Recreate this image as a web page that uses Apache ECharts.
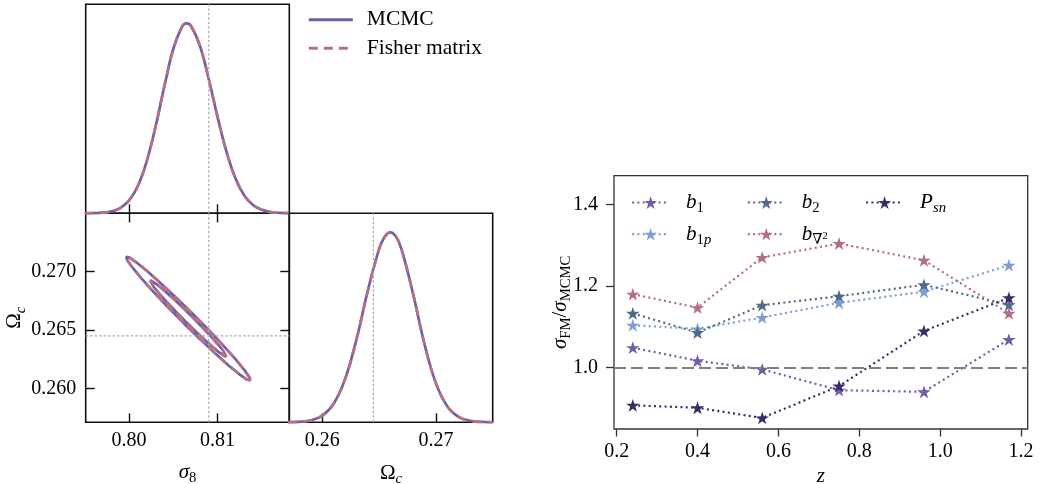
<!DOCTYPE html>
<html>
<head>
<meta charset="utf-8">
<script src="https://cdn.jsdelivr.net/npm/echarts@6/dist/echarts.min.js"></script>
<style>
  html, body { margin: 0; padding: 0; background: #fff; }
  #chart { width: 1040px; height: 484px; }
</style>
</head>
<body>
<div id="chart"></div>
<script>
// ---- tick positions ----
const sigma8Ticks = [0.80, 0.81];
const omegaCTicksLeft = [0.260, 0.265, 0.270];
const omegaCTicksBottom = [0.26, 0.27];
const zTicks = [0.2, 0.4, 0.6, 0.8, 1.0, 1.2];
const ratioTicks = [1.0, 1.2, 1.4];

// ---- fiducial cosmology ----
const sigma8Fiducial = 0.809;
const omegaCFiducial = 0.2645;

// ---- 1D marginal posteriors (peak-normalised) ----
const sigma8Grid = [0.795, 0.796, 0.797, 0.798, 0.799, 0.800, 0.801, 0.802, 0.803, 0.804, 0.805, 0.806, 0.8065,
  0.807, 0.808, 0.809, 0.810, 0.811, 0.812, 0.813, 0.814, 0.815, 0.816, 0.817, 0.818];
const sigma8Posterior = [0.0002, 0.0009, 0.0032, 0.0100, 0.0277, 0.0676, 0.145, 0.275, 0.458, 0.671, 0.866, 0.984, 1.000,
  0.986, 0.882, 0.707, 0.506, 0.325, 0.186, 0.0956, 0.0439, 0.0181, 0.0066, 0.0022, 0.0006];

const omegaCGrid = [0.257, 0.258, 0.259, 0.260, 0.261, 0.262, 0.263, 0.264, 0.265, 0.2655, 0.266, 0.2665,
  0.267, 0.268, 0.269, 0.270, 0.271, 0.272, 0.273, 0.274, 0.275];
const omegaCPosterior = [0.0005, 0.0026, 0.0105, 0.0353, 0.098, 0.226, 0.433, 0.690, 0.911, 0.977, 1.000, 0.976,
  0.906, 0.674, 0.411, 0.206, 0.0847, 0.0286, 0.0079, 0.0018, 0.0003];

// ---- 2D credible contours (68% and 95%) ----
const contour68Sigma8 = [0.81099, 0.81093, 0.81058, 0.80996, 0.80912, 0.80811, 0.80701, 0.80588, 0.80481, 0.80387,
  0.80312, 0.80262, 0.80239, 0.80245, 0.80280, 0.80342, 0.80426, 0.80527, 0.80637, 0.80750, 0.80857, 0.80951,
  0.81026, 0.81076, 0.81099];
const contour68OmegaC = [0.26273, 0.26290, 0.26328, 0.26385, 0.26456, 0.26537, 0.26622, 0.26706, 0.26782, 0.26845,
  0.26892, 0.26918, 0.26923, 0.26906, 0.26868, 0.26811, 0.26740, 0.26659, 0.26574, 0.26491, 0.26414, 0.26351,
  0.26304, 0.26278, 0.26273];
const contour95Sigma8 = [0.81370, 0.81360, 0.81302, 0.81202, 0.81065, 0.80901, 0.80721, 0.80538, 0.80363, 0.80210,
  0.80088, 0.80005, 0.79968, 0.79978, 0.80036, 0.80137, 0.80273, 0.80438, 0.80617, 0.80801, 0.80975, 0.81128,
  0.81250, 0.81333, 0.81370];
const contour95OmegaC = [0.26068, 0.26096, 0.26158, 0.26251, 0.26367, 0.26499, 0.26637, 0.26773, 0.26897, 0.27001,
  0.27077, 0.27120, 0.27128, 0.27100, 0.27038, 0.26945, 0.26829, 0.26697, 0.26559, 0.26423, 0.26299, 0.26195,
  0.26119, 0.26076, 0.26068];

// ---- Fisher / MCMC error ratio per redshift bin ----
const redshifts = [0.24, 0.40, 0.56, 0.75, 0.96, 1.17];
const ratioB1   = [1.049, 1.017, 0.996, 0.945, 0.941, 1.069];
const ratioB1p  = [1.104, 1.095, 1.123, 1.159, 1.186, 1.251];
const ratioB2   = [1.133, 1.086, 1.153, 1.175, 1.203, 1.154];
const ratioBLap = [1.180, 1.147, 1.270, 1.304, 1.263, 1.133];
const ratioPsn  = [0.908, 0.902, 0.877, 0.955, 1.090, 1.171];
const ratioReference = 1.0;

// ---- styling ----
const SERIF = "'Liberation Serif', 'DejaVu Serif', serif";
const C_MCMC = '#7060aa';
const C_FISHER = '#b57183';
const C_TRUTH = '#ababab';
const STAR = 'path://M0,-1 L0.2245,-0.309 L0.951,-0.309 L0.363,0.118 L0.588,0.809 L0,0.382 L-0.588,0.809 L-0.363,0.118 L-0.951,-0.309 L-0.2245,-0.309 Z';

const mathRich = {
  m:    { fontFamily: SERIF, fontStyle: 'italic', fontSize: 21, lineHeight: 22, color: '#000' },
  r:    { fontFamily: SERIF, fontSize: 21, lineHeight: 22, color: '#000' },
  lead: { fontFamily: SERIF, fontStyle: 'italic', fontSize: 21, lineHeight: 22, color: '#000', padding: [0, 0, 0, 12] },
  sub:  { fontFamily: SERIF, fontSize: 14.7, lineHeight: 22, color: '#000', padding: [12, 0, 0, 0] },
  subi: { fontFamily: SERIF, fontStyle: 'italic', fontSize: 14.7, lineHeight: 22, color: '#000', padding: [12, 0, 0, 0] },
  sup:  { fontFamily: SERIF, fontSize: 10.5, lineHeight: 22, color: '#000', padding: [4, 0, 0, 0] }
};

const legendLabels = {
  b1: '{lead|b}{sub|1}',
  b1p: '{lead|b}{sub|1}{subi|p}',
  b2: '{lead|b}{sub|2}',
  bLap: '{lead|b}{sub|∇}{sup|2}',
  Psn: '{lead|P}{subi|sn}'
};

const zip = (xs, ys) => xs.map((x, i) => [x, ys[i]]);

const SIGMA8_RANGE = [0.7951, 0.8181];
const OMEGAC_RANGE = [0.2571, 0.2750];
const DENSITY_RANGE = [0, 1.1];

const tickLabelStyle = { fontFamily: SERIF, fontSize: 20, color: '#000' };
const nameStyle = { fontFamily: SERIF, fontSize: 21, lineHeight: 22, color: '#000', rich: mathRich };

function cornerAxis(extra) {
  const ticks = extra.ticks;
  const labels = extra.labels;
  const axis = {
    type: 'value',
    gridIndex: extra.gridIndex,
    position: extra.position,
    min: extra.range[0],
    max: extra.range[1],
    axisLine: { show: false },
    splitLine: { show: false },
    axisTick: ticks ? {
      show: true, inside: true, length: 9, customValues: ticks,
      lineStyle: { color: '#111', width: 1.4 }
    } : { show: false },
    axisLabel: labels ? Object.assign({
      show: true, customValues: labels, margin: extra.labelMargin,
      formatter: v => v.toFixed(extra.decimals)
    }, tickLabelStyle) : { show: false }
  };
  if (extra.name) {
    axis.name = extra.name;
    axis.nameLocation = 'middle';
    axis.nameGap = extra.nameGap;
    axis.nameMoveOverlap = false;
    axis.nameTextStyle = nameStyle;
    if (extra.nameRotate !== undefined) axis.nameRotate = extra.nameRotate;
  }
  return axis;
}

function posteriorSeries(name, xi, yi, data, dashed, extra) {
  return Object.assign({
    name: name,
    type: 'line',
    xAxisIndex: xi,
    yAxisIndex: yi,
    data: data,
    symbol: 'none',
    silent: true,
    emphasis: { disabled: true },
    lineStyle: dashed
      ? { color: C_FISHER, width: 2.7, type: [9, 6], cap: 'butt' }
      : { color: C_MCMC, width: 2.7, type: 'solid' },
    itemStyle: { color: dashed ? C_FISHER : C_MCMC }
  }, extra || {});
}

// thin dotted guide through the fiducial value
function fiducialSeries(xi, yi, points) {
  return {
    name: 'fiducial',
    type: 'line',
    xAxisIndex: xi,
    yAxisIndex: yi,
    data: points,
    symbol: 'none',
    silent: true,
    emphasis: { disabled: true },
    lineStyle: { color: C_TRUTH, type: [2.5, 2], width: 1.2, cap: 'butt' }
  };
}

function ratioSeries(name, values, color, extra) {
  return Object.assign({
    name: name,
    type: 'line',
    xAxisIndex: 4,
    yAxisIndex: 4,
    data: zip(redshifts, values),
    symbol: STAR,
    symbolSize: [13.5, 12.8],
    showSymbol: true,
    silent: true,
    emphasis: { disabled: true },
    lineStyle: { color: color, width: 2.2, type: [2, 3.3], cap: 'butt' },
    itemStyle: { color: color, opacity: 1 }
  }, extra || {});
}

const ratioLegend = (left, data) => ({
  data: data,
  left: left,
  top: 189,
  orient: 'vertical',
  padding: 0,
  itemWidth: 37,
  itemHeight: 16,
  itemGap: 4.7,
  selectedMode: false,
  lineStyle: { width: 2.2 },
  textStyle: { fontFamily: SERIF, fontSize: 21, lineHeight: 22, color: '#000', rich: mathRich },
  formatter: n => legendLabels[n]
});

const smoothMarginal = { smooth: 0.4 };

const panel = (left, top, width, height, border, borderWidth) => ({
  left: left, top: top, width: width, height: height,
  show: true, borderColor: border, borderWidth: borderWidth,
  containLabel: false, outerBoundsMode: 'none'
});

const option = {
  animation: false,
  backgroundColor: '#fff',
  grid: [
    panel(85.7, 4.3, 203.6, 209, '#111', 1.6),
    panel(85.7, 213.3, 203.6, 209, '#111', 1.6),
    panel(289.3, 213.3, 203.4, 209, '#111', 1.6),
    panel(614, 175.7, 413.7, 253.3, '#333', 1.3)
  ],
  xAxis: [
    cornerAxis({ gridIndex: 0, position: 'bottom', range: SIGMA8_RANGE, ticks: sigma8Ticks }),
    cornerAxis({ gridIndex: 1, position: 'bottom', range: SIGMA8_RANGE, ticks: sigma8Ticks, labels: sigma8Ticks,
      decimals: 2, labelMargin: 8, name: '{m|σ}{sub|8}', nameGap: 39 }),
    cornerAxis({ gridIndex: 1, position: 'top', range: SIGMA8_RANGE, ticks: sigma8Ticks }),
    cornerAxis({ gridIndex: 2, position: 'bottom', range: OMEGAC_RANGE, ticks: omegaCTicksBottom, labels: omegaCTicksBottom,
      decimals: 2, labelMargin: 8, name: '{r|Ω}{subi|c}', nameGap: 40 }),
    {
      type: 'value', gridIndex: 3, position: 'bottom', min: 0.1935, max: 1.2165,
      axisLine: { show: false },
      splitLine: { show: false },
      axisTick: { show: true, inside: false, length: 7.5, customValues: zTicks, lineStyle: { color: '#333', width: 1.3 } },
      axisLabel: Object.assign({ customValues: zTicks, margin: 13, formatter: v => v.toFixed(1) }, tickLabelStyle),
      name: '{m|z}', nameLocation: 'middle', nameGap: 36, nameMoveOverlap: false, nameTextStyle: nameStyle
    }
  ],
  yAxis: [
    { type: 'value', gridIndex: 0, min: DENSITY_RANGE[0], max: DENSITY_RANGE[1], show: false },
    cornerAxis({ gridIndex: 1, position: 'left', range: OMEGAC_RANGE, ticks: omegaCTicksLeft, labels: omegaCTicksLeft,
      decimals: 3, labelMargin: 9.5, name: '{r|Ω}{subi|c}', nameGap: 60, nameRotate: 90 }),
    cornerAxis({ gridIndex: 1, position: 'right', range: OMEGAC_RANGE, ticks: omegaCTicksLeft }),
    { type: 'value', gridIndex: 2, min: DENSITY_RANGE[0], max: DENSITY_RANGE[1], show: false },
    {
      type: 'value', gridIndex: 3, position: 'left', min: 0.85, max: 1.47,
      axisLine: { show: false },
      splitLine: { show: false },
      axisTick: { show: true, inside: false, length: 8, customValues: ratioTicks, lineStyle: { color: '#333', width: 1.3 } },
      axisLabel: Object.assign({ customValues: ratioTicks, margin: 16, formatter: v => v.toFixed(1) }, tickLabelStyle),
      name: '{m|σ}{sub|FM}{r|/}{m|σ}{sub|MCMC}', nameLocation: 'middle', nameRotate: 90, nameGap: 43,
      nameMoveOverlap: false, nameTextStyle: nameStyle
    }
  ],
  legend: [
    {
      data: ['MCMC', 'Fisher matrix'],
      left: 307.3,
      top: 8.7,
      orient: 'vertical',
      padding: 0,
      itemWidth: 44,
      itemHeight: 14,
      itemGap: 6.6,
      selectedMode: false,
      itemStyle: { opacity: 0 },
      lineStyle: { width: 3 },
      textStyle: {
        fontFamily: SERIF, fontSize: 21.5, lineHeight: 22, color: '#000',
        rich: { t: { fontFamily: SERIF, fontSize: 21.5, lineHeight: 22, color: '#000', padding: [0, 0, 0, 9] } }
      },
      formatter: n => '{t|' + n + '}'
    },
    ratioLegend(631, ['b1', 'b1p']),
    ratioLegend(746.7, ['b2', 'bLap']),
    ratioLegend(865, ['Psn'])
  ],
  series: [
    // sigma_8 marginal
    posteriorSeries('MCMC', 0, 0, zip(sigma8Grid, sigma8Posterior), false, smoothMarginal),
    posteriorSeries('Fisher matrix', 0, 0, zip(sigma8Grid, sigma8Posterior), true, smoothMarginal),
    fiducialSeries(0, 0, [[sigma8Fiducial, DENSITY_RANGE[0]], [sigma8Fiducial, DENSITY_RANGE[1]]]),
    // joint contours
    posteriorSeries('MCMC', 1, 1, zip(contour95Sigma8, contour95OmegaC), false),
    posteriorSeries('MCMC', 1, 1, zip(contour68Sigma8, contour68OmegaC), false),
    posteriorSeries('Fisher matrix', 1, 1, zip(contour95Sigma8, contour95OmegaC), true),
    posteriorSeries('Fisher matrix', 1, 1, zip(contour68Sigma8, contour68OmegaC), true),
    fiducialSeries(1, 1, [[sigma8Fiducial, OMEGAC_RANGE[0]], [sigma8Fiducial, OMEGAC_RANGE[1]]]),
    fiducialSeries(1, 1, [[SIGMA8_RANGE[0], omegaCFiducial], [SIGMA8_RANGE[1], omegaCFiducial]]),
    // Omega_c marginal
    posteriorSeries('MCMC', 3, 3, zip(omegaCGrid, omegaCPosterior), false, smoothMarginal),
    posteriorSeries('Fisher matrix', 3, 3, zip(omegaCGrid, omegaCPosterior), true, smoothMarginal),
    fiducialSeries(3, 3, [[omegaCFiducial, DENSITY_RANGE[0]], [omegaCFiducial, DENSITY_RANGE[1]]]),
    // error ratios
    ratioSeries('b1', ratioB1, '#735ca8', {
      markLine: {
        silent: true, symbol: ['none', 'none'], label: { show: false }, emphasis: { disabled: true },
        lineStyle: { color: '#808080', type: [12, 5], width: 2 },
        data: [{ yAxis: ratioReference }]
      }
    }),
    ratioSeries('b1p', ratioB1p, '#7d9fd3'),
    ratioSeries('b2', ratioB2, '#4f6a88'),
    ratioSeries('bLap', ratioBLap, '#b46e80'),
    ratioSeries('Psn', ratioPsn, '#3a2c6a')
  ]
};

const chart = echarts.init(document.getElementById('chart'), null, { renderer: 'canvas' });
chart.setOption(option);
</script>
</body>
</html>
